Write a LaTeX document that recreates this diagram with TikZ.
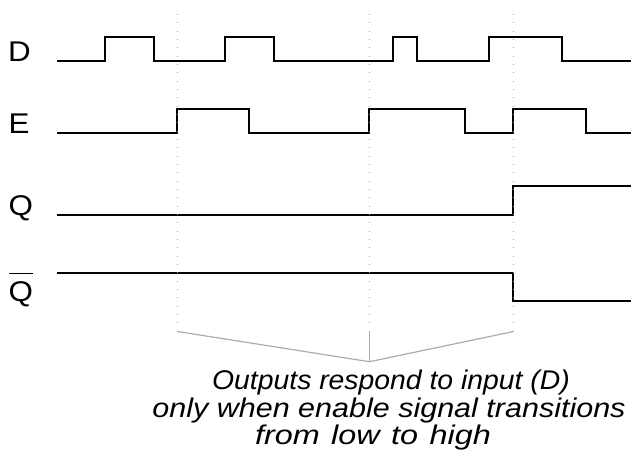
\documentclass[tikz,border=0pt]{standalone}
\usepackage{graphicx}
\usepackage{fontspec}
\setmainfont[FakeStretch=1.1]{Liberation Sans}
\newfontfamily\notefont{Liberation Sans}
\begin{document}
\begin{tikzpicture}[x=1pt,y=-1pt,
  wave/.style={line width=2pt, line join=miter},
  guide/.style={gray!75, line width=1pt, dash pattern=on 0.8pt off 7.53pt},
  bracel/.style={gray!65, line width=1.2pt},
  sig/.style={anchor=base west, inner sep=0pt, font=\fontsize{28.5}{32}\selectfont},
  note/.style={anchor=base, inner sep=0pt, font=\notefont\fontsize{27}{30}\selectfont\itshape}]
\useasboundingbox (0,0) rectangle (631,456);
% labels
\node[sig] (lD) at (8,61) {D};
\node[sig] (lE) at (8.5,133) {E};
\node[sig] (lQ) at (8.5,215) {Q};
\node[sig] (lQb) at (8.5,301) {Q};
\draw[line width=1.4pt] ([shift={(0.5,-27.5)}]lQb.base west) -- ([shift={(0,-27.5)}]lQb.base east);
% waveforms
\draw[wave] (57,61) -| (105,37) -| (154,61) -| (225,37) -| (274,61) -| (393,37) -| (417,61) -| (489,37) -| (562,61) -- (632,61);
\draw[wave] (57,133) -| (177,109) -| (249,133) -| (369,109) -| (465,133) -| (513,109) -| (586,133) -- (632,133);
\draw[wave] (57,215) -| (513,186) -- (632,186);
\draw[wave] (57,273) -| (513,301) -- (632,301);
% guides
\coordinate (t1) at (177.5,14);   \coordinate (b1) at (177.5,331.5);
\coordinate (t2) at (369.5,14); \coordinate (b2) at (369.5,331.5);
\coordinate (t3) at (513.5,14); \coordinate (b3) at (513.5,331.5);
\coordinate (apex) at (369.5,361.7);
\draw[guide] (t1) -- (b1);
\draw[guide] (t2) -- (b2);
\draw[guide] (t3) -- (b3);
\draw[bracel] (b1) -- (apex) -- (b3);
\draw[bracel] (b2) -- (apex);
% note
\node[note] (n1) at (391,389) {\scalebox{1.05}[1]{Outputs respond to input (D)}};
\node[note] (n2) at (389,417) {\scalebox{1.13}[1]{only when enable signal transitions}};
\node[note] (n3) at (373,444) {\scalebox{1.2}[1]{from\hspace{2pt} low\hspace{2pt} to\hspace{2pt} high}};
\end{tikzpicture}
\end{document}
